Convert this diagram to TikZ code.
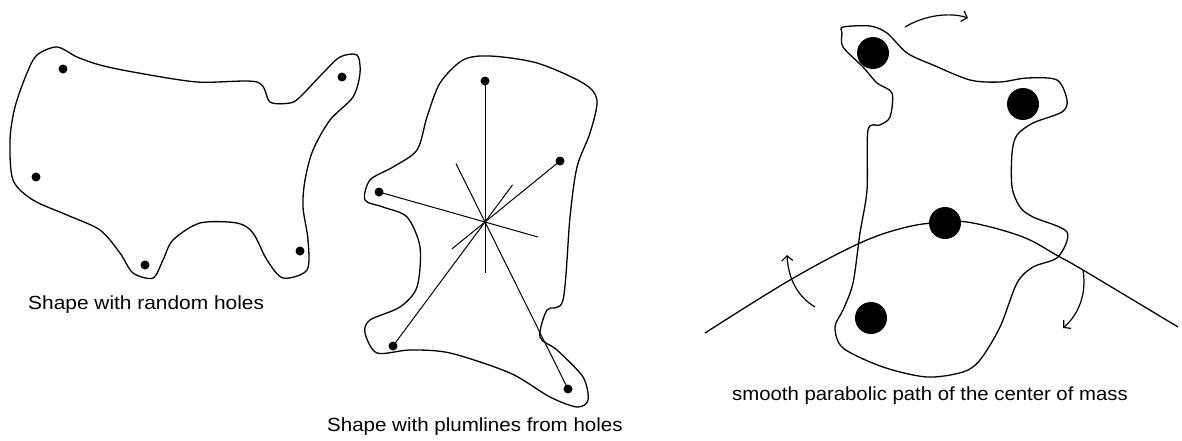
\documentclass[tikz,border=0pt]{standalone}
\usepackage{fontspec}
\setmainfont{Liberation Sans}
\usetikzlibrary{arrows.meta,calc}
\tikzset{
  outline/.style={line width=1.3pt, line join=round},
  hole/.style={circle, fill=black, inner sep=0pt, minimum size=9pt},
  bighole/.style={circle, fill=black, inner sep=0pt, minimum size=32pt},
  plumb/.style={line width=1pt},
  turn/.style={line width=1.2pt, -{Straight Barb[length=5pt,width=11pt,line width=1.2pt]}},
  caption/.style={anchor=base west, inner sep=0pt, font=\fontsize{19}{22}\selectfont}
}
\begin{document}
\begin{tikzpicture}[x=1pt,y=-1pt]
\useasboundingbox (0,0) rectangle (1182,440);
% ---------- left shape ----------
\draw[outline] plot[smooth cycle, tension=0.5] coordinates {
(57,47) (37,55) (27,73) (15,107) (10,140) (13,180) (33,200) (67,215) (100,230)
(120,253) (133,273) (153,278) (163,260) (173,240) (200,223) (237,223) (253,233)
(267,260) (283,278) (307,270) (308,240) (303,207) (305,180) (313,150) (330,120)
(353,97) (360,73) (357,55) (340,57) (323,73) (300,97) (290,103) (270,102) (257,82)
(197,82) (133,72) (100,65) (77,57)};
\node[hole] (a1) at (63,69) {};
\node[hole] (a2) at (36,177) {};
\node[hole] (a3) at (145,265) {};
\node[hole] (a4) at (300,251) {};
\node[hole] (a5) at (342,77) {};
\node[caption] (l1) at (28,309) {\scalebox{1.1}[1]{Shape with random holes}};
% ---------- middle shape ----------
\draw[outline] plot[smooth cycle, tension=0.5] coordinates {
(463,60) (490,56) (537,63) (583,83) (597,100) (590,133) (577,167) (570,217)
(563,300) (547,310) (540,337) (557,350) (583,377) (588,400) (577,407) (550,397)
(510,373) (450,353) (410,350) (377,353) (365,333) (370,320) (400,307) (417,287)
(420,247) (407,217) (383,207) (365,200) (370,180) (393,167) (417,150) (427,117)
(440,83)};
\coordinate (c) at (485,222);
\node[hole] (m1) at (485,81) {};
\node[hole] (m2) at (560,161) {};
\node[hole] (m3) at (379,192) {};
\node[hole] (m4) at (393,346) {};
\node[hole] (m5) at (568,389) {};
\draw[plumb] (m1.center) -- ($(c)!-0.36!(m1)$);
\draw[plumb] (m2.center) -- ($(c)!-0.44!(m2)$);
\draw[plumb] (m3.center) -- ($(c)!-0.5!(m3)$);
\draw[plumb] (m4.center) -- ($(c)!-0.3!(m4)$);
\draw[plumb] (m5.center) -- ($(c)!-0.35!(m5)$);
\node[caption] (l2) at (327,431) {\scalebox{1.08}[1]{Shape with plumlines from holes}};
% ---------- right shape ----------
\draw[outline] plot[smooth cycle, tension=0.5] coordinates {
(843,27) (870,26) (887,33) (907,53) (933,65) (970,80) (1000,82) (1027,78)
(1057,80) (1067,100) (1062,112) (1033,123) (1017,135) (1012,153) (1012,187)
(1020,207) (1033,217) (1067,232) (1058,257) (1033,267) (1017,283) (1000,327)
(980,360) (963,372) (927,377) (883,367) (843,348) (835,327) (843,310) (853,283)
(860,233) (867,190) (868,130) (880,125) (890,117) (892,93) (877,83) (863,67)
(843,47) (842,33)};
\draw[outline] plot[smooth, tension=0.6] coordinates {
(705,333) (790,280) (860,243) (907,227) (945,222) (973,223) (1023,237)
(1058,256) (1083,270) (1178,327)};
\node[bighole] (r1) at (873,53) {};
\node[bighole] (r2) at (1023,104) {};
\node[bighole] (r3) at (945,223) {};
\node[bighole] (r4) at (871,318) {};
\draw[turn] (905,27) .. controls (925,15) and (950,12) .. (968,18);
\draw[turn] (815,307) .. controls (795,295) and (788,275) .. (787,255);
\draw[turn] (1083,270) .. controls (1087,295) and (1078,315) .. (1063,328);
\node[caption] (l3) at (732,400) {\scalebox{1.07}[1]{smooth parabolic path of the center of mass}};
\end{tikzpicture}
\end{document}
